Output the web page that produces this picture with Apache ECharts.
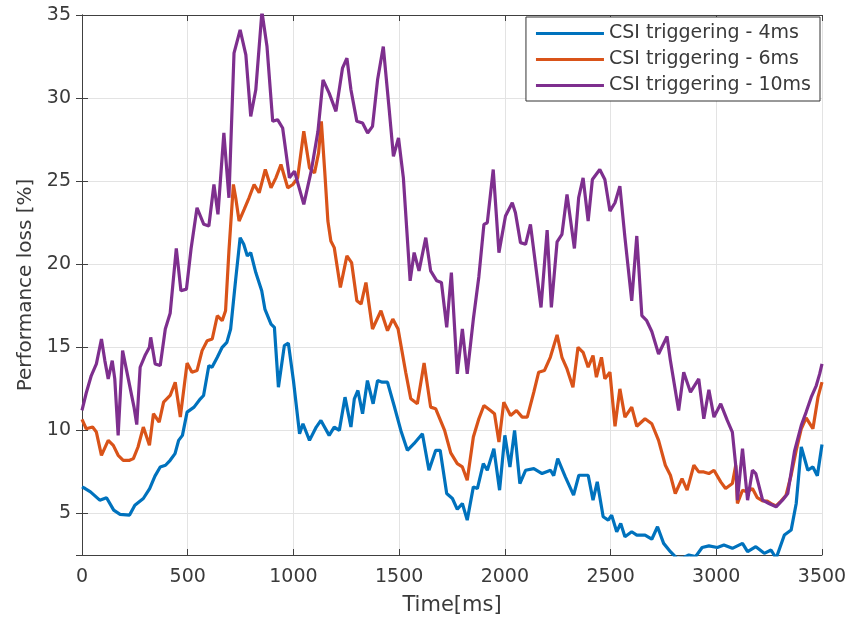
<!DOCTYPE html>
<html>
<head>
<meta charset="utf-8">
<script src="https://cdn.jsdelivr.net/npm/echarts@6/dist/echarts.min.js"></script>
<style>html,body{margin:0;padding:0;background:#fff;}#c{width:850px;height:626px;}</style>
</head>
<body>
<div id="c"></div>
<script>
var seriesNames = ['CSI triggering - 4ms', 'CSI triggering - 6ms', 'CSI triggering - 10ms'];
var xTicks = [0, 500, 1000, 1500, 2000, 2500, 3000, 3500];
var yTicks = [5, 10, 15, 20, 25, 30, 35];

var blueT = [0,15,40,84,116,150,180,225,250,290,320,345,370,395,417,440,457,475,497,530,560,575,600,615,640,663,685,703,727,748,765,782,798,822,850,865,894,910,929,957,976,1000,1029,1045,1076,1108,1130,1169,1193,1217,1244,1272,1288,1305,1327,1350,1377,1398,1420,1445,1476,1508,1539,1570,1610,1641,1673,1694,1725,1752,1775,1799,1822,1851,1870,1898,1917,1948,1975,2000,2024,2046,2071,2098,2137,2176,2216,2231,2250,2286,2325,2350,2378,2394,2417,2437,2465,2489,2505,2529,2548,2568,2600,2624,2663,2695,2722,2751,2783,2814,2846,2870,2902,2933,2965,3005,3036,3076,3124,3148,3187,3227,3259,3283,3322,3354,3378,3402,3433,3457,3478,3500];
var blueV = [6.6,6.5,6.3,5.8,5.95,5.2,4.95,4.9,5.5,5.9,6.5,7.25,7.8,7.9,8.2,8.6,9.4,9.7,11.1,11.4,11.9,12.1,13.9,13.8,14.4,15.0,15.3,16.1,19.1,21.6,21.2,20.5,20.7,19.5,18.4,17.3,16.4,16.2,12.6,15.1,15.25,13.0,9.8,10.4,9.4,10.2,10.6,9.7,10.2,10.0,12.0,10.2,11.9,12.4,11.0,13.0,11.6,13.0,12.9,12.9,11.5,10.0,8.8,9.2,9.8,7.6,8.8,8.8,6.2,5.9,5.25,5.6,4.6,6.6,6.5,8.0,7.6,8.9,6.4,9.7,7.8,10.0,6.8,7.6,7.7,7.4,7.6,7.27,8.3,7.2,6.1,7.3,7.3,7.3,5.8,6.9,4.8,4.6,4.9,3.9,4.4,3.6,3.9,3.7,3.7,3.45,4.2,3.2,2.7,2.3,2.35,2.5,2.4,2.95,3.05,2.95,3.1,2.9,3.2,2.7,3.0,2.6,2.8,2.3,3.7,4.0,5.6,9.0,7.6,7.8,7.27,9.15];

var orangeT = [0,20,50,68,92,124,148,171,195,225,243,265,290,319,338,365,386,417,441,465,497,520,544,568,592,616,640,663,679,695,716,727,743,767,790,814,838,867,894,917,941,973,997,1020,1049,1076,1100,1119,1132,1148,1163,1177,1193,1222,1253,1275,1300,1320,1343,1374,1414,1445,1470,1495,1531,1555,1586,1618,1649,1673,1715,1744,1775,1799,1822,1851,1877,1901,1932,1951,1972,1995,2027,2055,2082,2106,2137,2160,2187,2215,2247,2270,2294,2322,2346,2370,2394,2417,2433,2457,2473,2497,2521,2544,2568,2600,2624,2663,2695,2727,2759,2783,2806,2838,2862,2894,2917,2941,2965,2989,3021,3044,3076,3092,3100,3124,3148,3171,3194,3219,3241,3265,3283,3306,3330,3354,3378,3402,3425,3457,3481,3500];
var orangeV = [10.66,10.1,10.2,9.9,8.5,9.4,9.1,8.5,8.2,8.2,8.3,9.0,10.2,9.1,11.0,10.5,11.7,12.1,12.9,10.8,14.05,13.5,13.6,14.8,15.4,15.5,16.9,16.6,17.2,20.8,24.8,24.0,22.6,23.3,24.0,24.8,24.3,25.7,24.6,25.2,26.0,24.6,24.8,25.2,28.0,25.8,25.5,26.7,28.6,25.6,22.6,21.4,21.0,18.6,20.5,20.1,17.8,17.6,18.9,16.1,17.2,16.0,16.7,16.1,13.5,11.9,11.6,14.05,11.4,11.3,10.0,8.65,8.0,7.8,7.0,9.6,10.7,11.5,11.2,11.0,9.3,11.7,10.9,11.2,10.8,10.8,12.3,13.5,13.6,14.4,15.75,14.4,13.7,12.6,15.0,14.7,13.8,14.5,13.2,14.4,13.1,13.5,10.25,12.5,10.8,11.4,10.25,10.7,10.4,9.4,7.9,7.3,6.2,7.1,6.4,7.9,7.5,7.5,7.4,7.6,6.9,6.5,6.8,7.9,5.6,6.4,6.3,6.5,5.95,5.75,5.75,5.55,5.45,5.75,6.1,7.3,8.8,10.1,10.75,10.1,12.0,12.9];

var purpleT = [0,20,44,68,92,108,124,143,155,171,192,219,246,259,275,298,319,325,346,370,394,417,446,468,494,516,544,576,600,624,643,671,695,719,748,775,798,822,851,875,902,925,949,981,1005,1049,1084,1116,1140,1146,1169,1201,1232,1253,1272,1300,1327,1351,1374,1398,1425,1453,1473,1497,1520,1552,1571,1594,1626,1649,1678,1700,1725,1747,1775,1799,1822,1851,1877,1901,1917,1945,1972,2003,2035,2050,2074,2098,2121,2171,2200,2220,2247,2270,2294,2329,2349,2370,2394,2414,2449,2473,2497,2521,2544,2568,2600,2624,2648,2671,2695,2727,2767,2783,2822,2846,2878,2917,2941,2965,2989,3021,3052,3076,3095,3100,3124,3148,3171,3187,3219,3249,3283,3313,3338,3370,3402,3425,3449,3473,3489,3500];
var purpleV = [11.2,12.25,13.3,14.0,15.5,14.2,13.1,14.2,13.1,9.7,14.8,13.1,11.4,10.35,13.8,14.5,15.0,15.6,14.0,13.9,16.1,17.05,20.95,18.4,18.5,20.95,23.4,22.4,22.3,24.8,23.0,27.9,24.0,32.7,34.1,32.6,28.9,30.5,35.2,33.1,28.6,28.7,28.2,25.2,25.6,23.6,25.6,28.0,31.1,31.2,30.3,29.2,31.8,32.4,30.5,28.6,28.5,27.9,28.3,31.1,33.1,29.3,26.5,27.6,25.2,19.0,20.7,19.6,21.6,19.6,19.0,18.9,16.2,19.5,13.4,16.1,13.4,16.7,19.25,22.4,22.5,25.7,20.7,22.9,23.7,23.1,21.3,21.2,22.4,17.4,22.05,17.4,21.35,21.8,24.2,20.95,24.0,25.2,22.6,25.1,25.7,25.1,23.2,23.7,24.7,21.6,17.8,21.7,16.9,16.6,15.95,14.6,15.65,14.2,11.2,13.5,12.3,13.1,10.7,12.45,10.8,11.6,10.6,9.9,7.5,5.8,8.9,5.8,7.6,7.4,5.8,5.6,5.4,5.8,6.2,8.75,10.3,11.1,12.0,12.7,13.4,14.0];

var colors = ['#0072BD', '#D95319', '#7E2F8E'];

function pairs(t, v) { return t.map(function (x, i) { return [x, v[i]]; }); }

var font = 'DejaVu Sans';
var axisColor = '#404040';
var textColor = '#3a3a3a';

var chart = echarts.init(document.getElementById('c'), null, {renderer: 'canvas'});
var data = [pairs(blueT, blueV), pairs(orangeT, orangeV), pairs(purpleT, purpleV)];

chart.setOption({
  animation: false,
  backgroundColor: '#fff',
  grid: {left: 82, right: 28, top: 15, bottom: 71, containLabel: false},
  legend: {
    orient: 'vertical', right: 30, top: 17,
    data: seriesNames.map(function (n, i) { return {name: n, icon: 'rect', itemStyle: {color: colors[i]}}; }),
    itemWidth: 68, itemHeight: 3, itemGap: 7,
    padding: [7, 9, 6, 10],
    backgroundColor: '#fff',
    borderColor: '#333', borderWidth: 1, borderRadius: 0,
    textStyle: {fontFamily: font, fontSize: 19, lineHeight: 19, color: textColor}
  },
  xAxis: [{
    type: 'value', min: xTicks[0], max: xTicks[xTicks.length - 1], interval: 500,
    name: 'Time[ms]', nameLocation: 'middle', nameGap: 40,
    nameTextStyle: {fontFamily: font, fontSize: 21, color: textColor},
    axisLine: {show: true, lineStyle: {color: axisColor, width: 1}},
    axisTick: {show: true, inside: true, length: 6, lineStyle: {color: axisColor}},
    axisLabel: {fontFamily: font, fontSize: 19, color: textColor, margin: 13,
      formatter: function (v) { return String(v); }},
    splitLine: {show: true, lineStyle: {color: '#e3e3e3', width: 1}}
  }, {
    type: 'value', position: 'top', min: xTicks[0], max: xTicks[xTicks.length - 1], interval: 500,
    axisLine: {show: true, lineStyle: {color: axisColor, width: 1}},
    axisTick: {show: true, inside: true, length: 6, lineStyle: {color: axisColor}},
    axisLabel: {show: false}, splitLine: {show: false}
  }],
  yAxis: [{
    type: 'value', min: 2.5, max: 35, splitNumber: 7,
    name: 'Performance loss [%]', nameLocation: 'middle', nameGap: 46,
    nameTextStyle: {fontFamily: font, fontSize: 20, color: textColor},
    axisLine: {show: true, lineStyle: {color: axisColor, width: 1}},
    axisTick: {show: true, inside: true, length: 6, lineStyle: {color: axisColor}},
    axisLabel: {fontFamily: font, fontSize: 19, color: textColor, margin: 11, showMinLabel: false,
      formatter: function (v) { return yTicks.indexOf(v) >= 0 ? String(v) : ''; }},
    splitLine: {show: true, lineStyle: {color: '#e3e3e3', width: 1}}
  }, {
    type: 'value', position: 'right', min: 2.5, max: 35, splitNumber: 7,
    axisLine: {show: true, lineStyle: {color: axisColor, width: 1}},
    axisTick: {show: true, inside: true, length: 6, lineStyle: {color: axisColor}},
    axisLabel: {show: false}, splitLine: {show: false}
  }],
  series: seriesNames.map(function (n, i) {
    return {
      name: n, type: 'line', data: data[i], showSymbol: false, symbol: 'none',
      clip: true, xAxisIndex: 0, yAxisIndex: 0,
      lineStyle: {color: colors[i], width: 3.2}, itemStyle: {color: colors[i]},
      z: 2 + i
    };
  })
});
</script>
</body>
</html>
